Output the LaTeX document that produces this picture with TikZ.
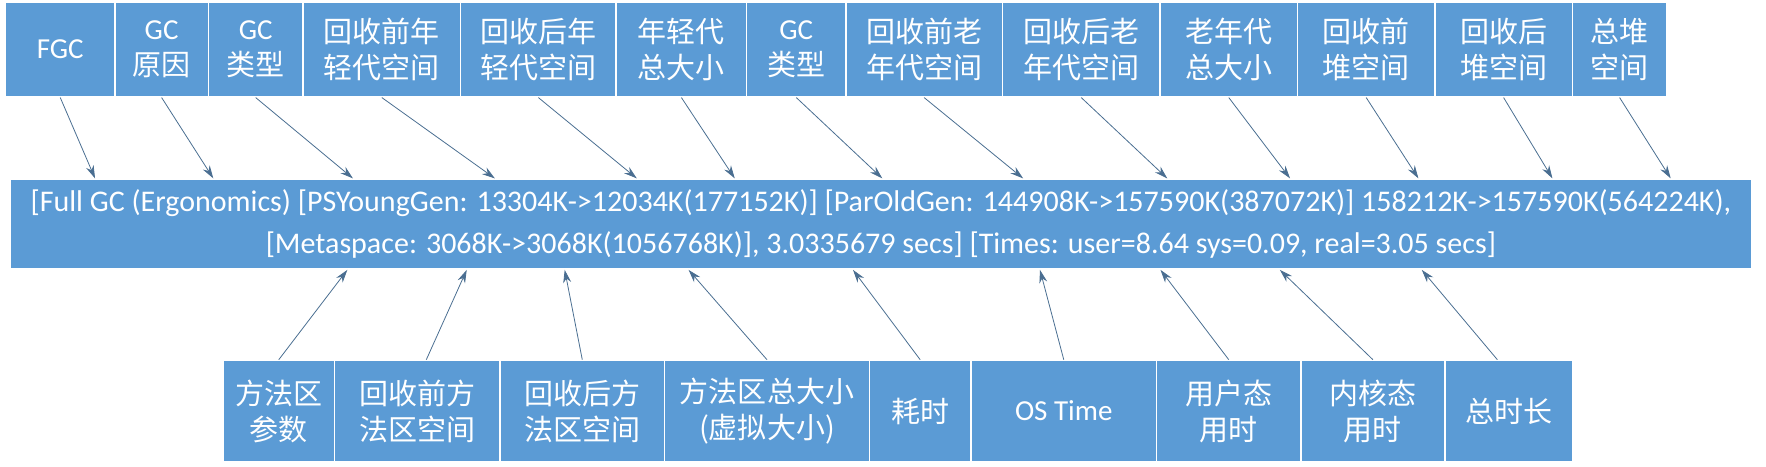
\documentclass[tikz,border=0pt]{standalone}
\usepackage{fontspec}
\setmainfont{Carlito}
\newfontfamily\cjk{Noto Sans CJK SC}
\usetikzlibrary{arrows.meta}
\definecolor{bx}{HTML}{5B9BD5}
\definecolor{ar}{HTML}{4A6E91}
\tikzset{x=1.126pt,y=-1.126pt,
 box/.style={fill=bx,draw=white,line width=1.4pt,text=white,inner sep=0pt,align=center,font=\fontsize{29}{36}\selectfont},
 arr/.style={draw=ar,line width=0.8pt,-{Stealth[length=13pt,width=8pt]}}}
\newcommand{\tb}[4]{\node[box,minimum width={(#3-#2)*1.126},minimum height={84*1.126}] (#1) at ({(#2+#3)/2},44) {#4};}
\newcommand{\bb}[4]{\node[box,minimum width={(#3-#2)*1.126},minimum height={90*1.126}] (#1) at ({(#2+#3)/2},365) {#4};}
\begin{document}
\begin{tikzpicture}
\useasboundingbox (0,0) rectangle (1568,414);
\tb{t1}{5}{102}{FGC}
\tb{t2}{102}{185}{GC\\\cjk 原因}
\tb{t3}{185}{269}{GC\\\cjk 类型}
\tb{t4}{269}{409}{\cjk 回收前年\\\cjk 轻代空间}
\tb{t5}{409}{547}{\cjk 回收后年\\\cjk 轻代空间}
\tb{t6}{547}{663}{\cjk 年轻代\\\cjk 总大小}
\tb{t7}{663}{751}{GC\\\cjk 类型}
\tb{t8}{751}{890}{\cjk 回收前老\\\cjk 年代空间}
\tb{t9}{890}{1030}{\cjk 回收后老\\\cjk 年代空间}
\tb{t10}{1030}{1152}{\cjk 老年代\\\cjk 总大小}
\tb{t11}{1152}{1274}{\cjk 回收前\\\cjk 堆空间}
\tb{t12}{1274}{1396}{\cjk 回收后\\\cjk 堆空间}
\tb{t13}{1396}{1480}{\cjk 总堆\\\cjk 空间}
\node[box,minimum width={1546*1.126},minimum height={80*1.126},font=\fontsize{30}{41.5}\selectfont] (m) at (782,199)
 {[Full GC (Ergonomics) [PSYoungGen: 13304K->12034K(177152K)] [ParOldGen: 144908K->157590K(387072K)] 158212K->157590K(564224K),\\{}%
 [Metaspace: 3068K->3068K(1056768K)], 3.0335679 secs] [Times: user=8.64 sys=0.09, real=3.05 secs]};
\bb{b1}{198}{297}{\cjk 方法区\\\cjk 参数}
\bb{b2}{297}{444}{\cjk 回收前方\\\cjk 法区空间}
\bb{b3}{444}{590}{\cjk 回收后方\\\cjk 法区空间}
\bb{b4}{590}{772}{\cjk 方法区总大小\\\cjk (虚拟大小)}
\bb{b5}{772}{862}{\cjk 耗时}
\bb{b6}{862}{1027}{OS Time}
\bb{b7}{1027}{1155}{\cjk 用户态\\\cjk 用时}
\bb{b8}{1155}{1283}{\cjk 内核态\\\cjk 用时}
\bb{b9}{1283}{1396}{\cjk 总时长}
\foreach \i/\e in {1/76,2/181,3/305,4/431,5/557,6/644,7/775,8/900,9/1028,10/1137,11/1251,12/1370,13/1475}
  \draw[arr] (t\i.south) -- ([xshift={\e*1.126}]m.north west);
\foreach \i/\d/\e in {1/0/300,2/8/406,3/0/493,4/0/603,5/0/749,6/0/915,7/0/1022,8/0/1128,9/-10/1254}
  \draw[arr] ([xshift={\d*1.126}]b\i.north) -- ([xshift={\e*1.126}]m.south west);
\end{tikzpicture}
\end{document}
